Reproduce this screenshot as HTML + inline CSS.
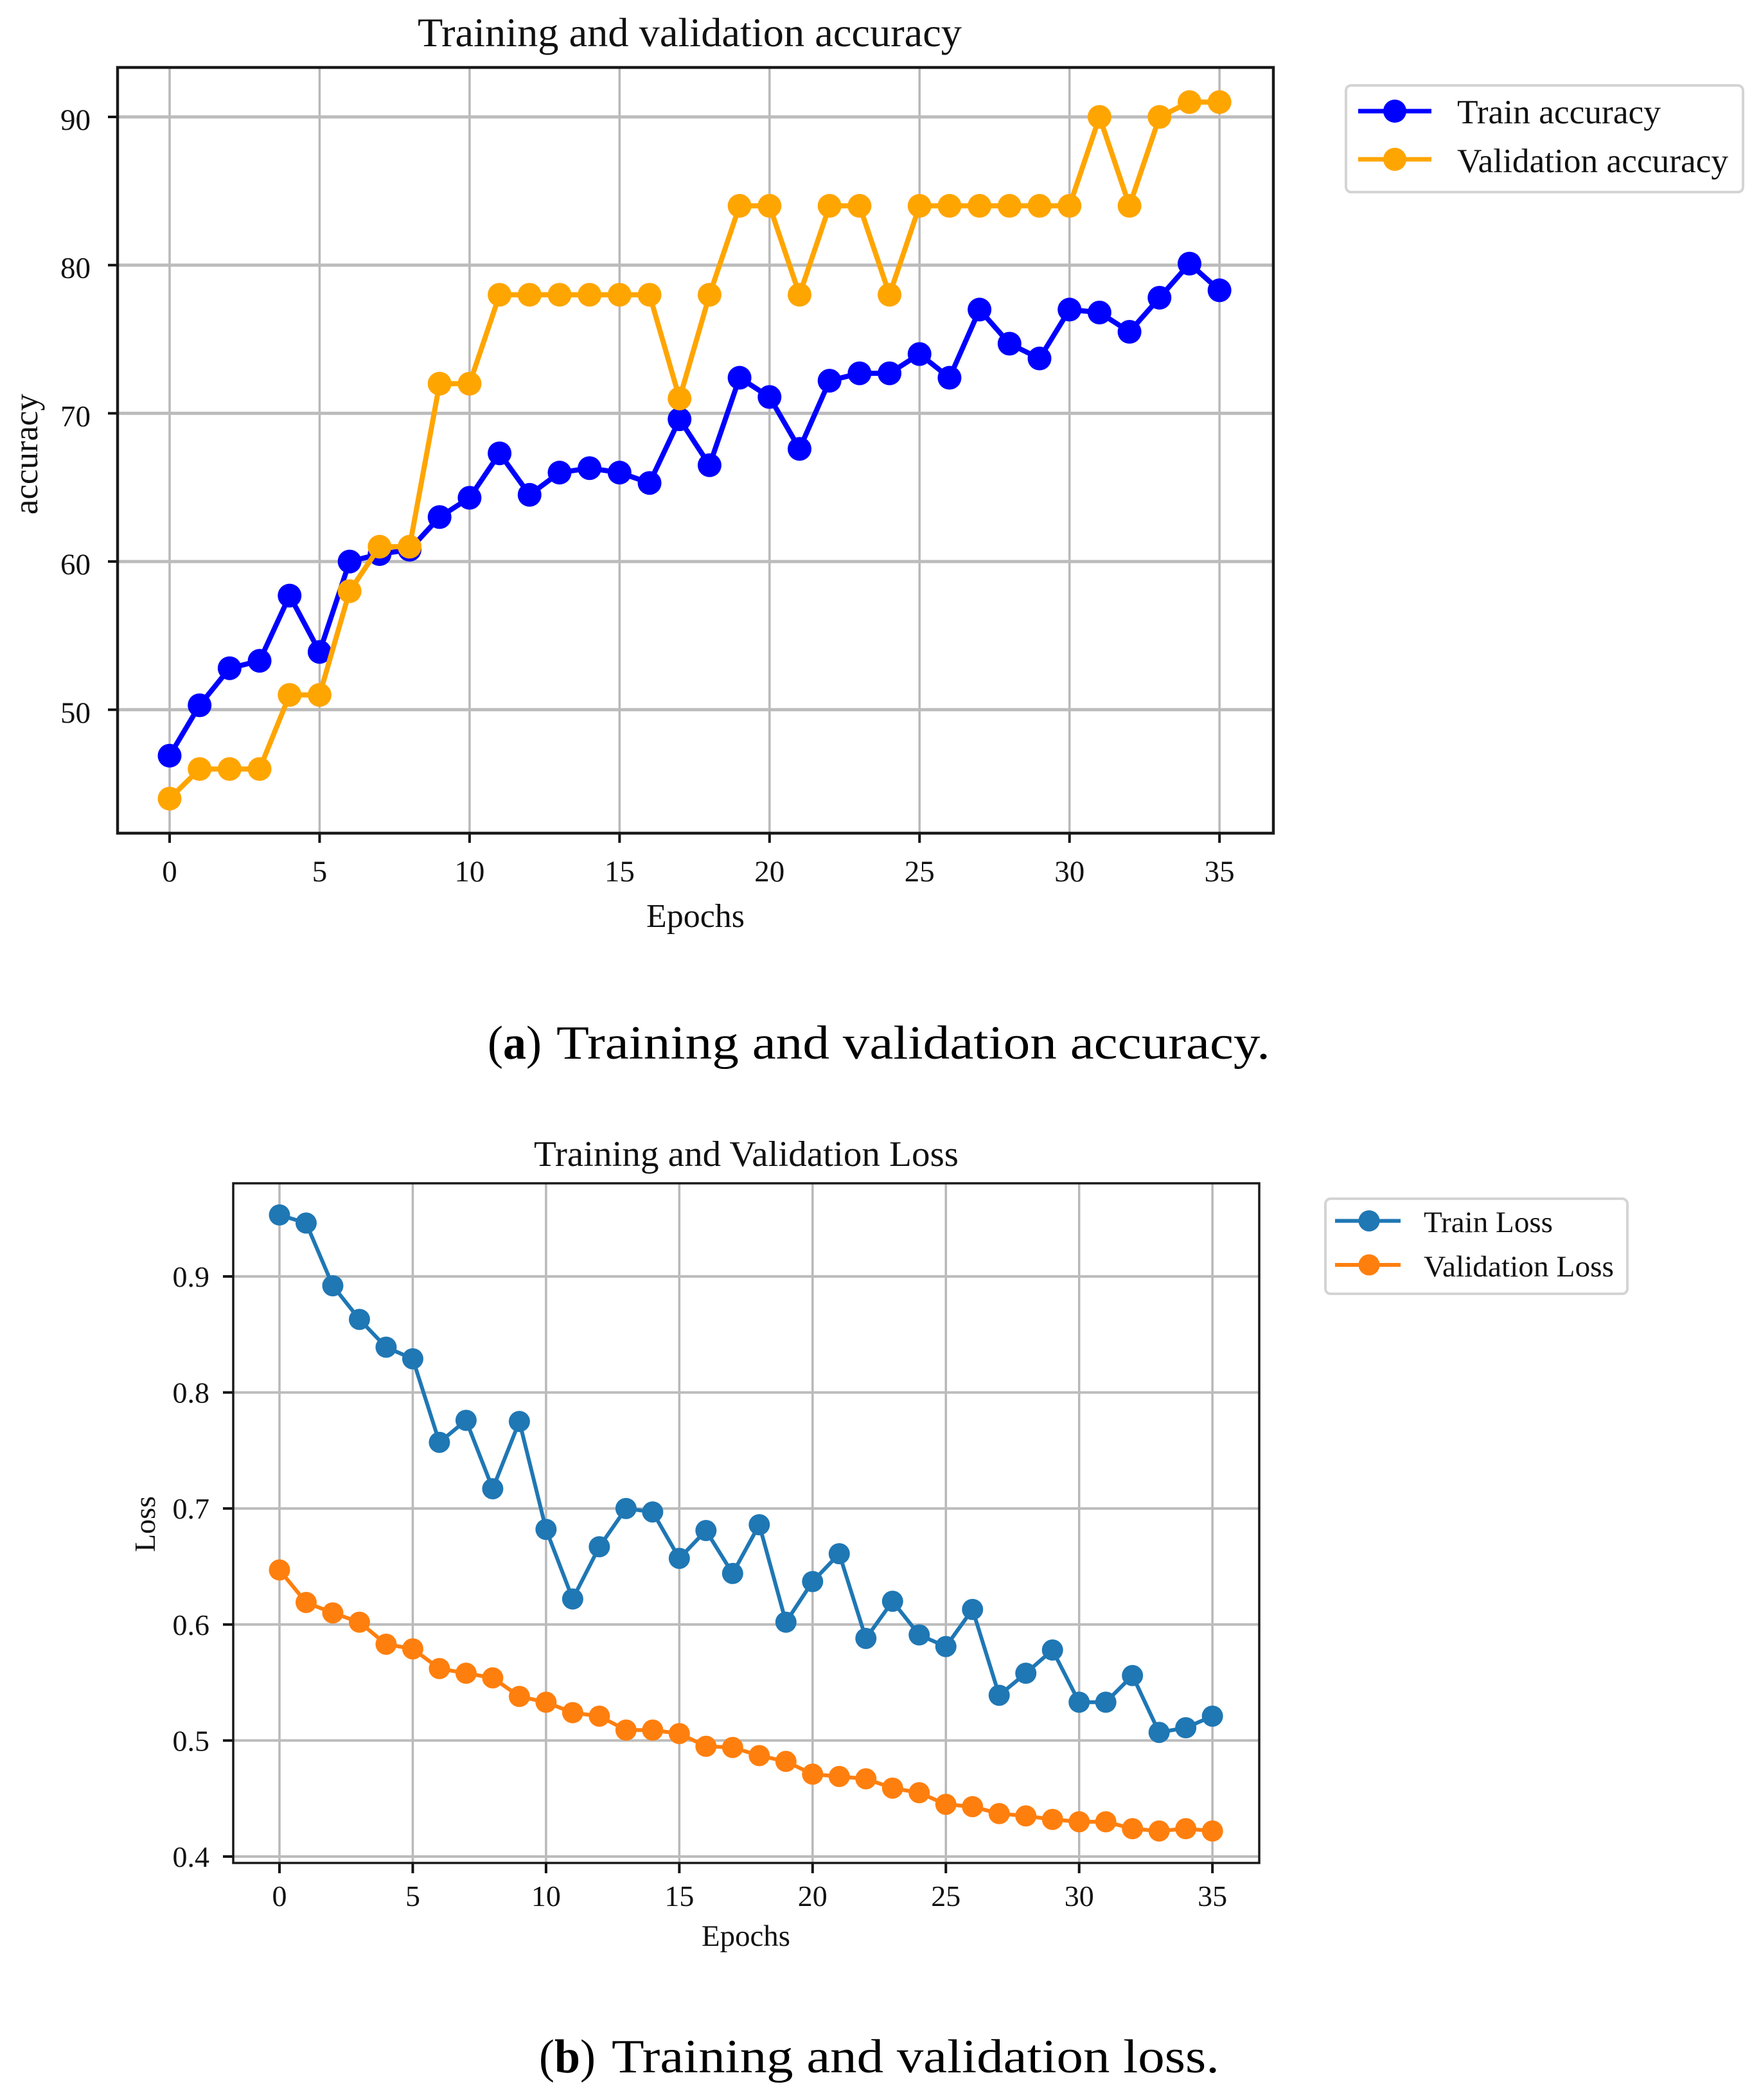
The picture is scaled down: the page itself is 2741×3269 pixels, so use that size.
<!DOCTYPE html>
<html lang="en">
<head>
<meta charset="utf-8">
<title>Training and validation accuracy and loss</title>
<style>
html,body{margin:0;padding:0;background:#fff;}
svg{display:block;}
text{font-family:"Liberation Serif","Times New Roman",serif;fill:#111;}
</style>
</head>
<body>
<svg id="figure" xmlns="http://www.w3.org/2000/svg" width="2741" height="3269" viewBox="0 0 2741 3269">
  <rect x="0" y="0" width="2741" height="3269" fill="#fff"/>

  <g id="chartA">
    <text x="650" y="72" font-size="64" textLength="847" lengthAdjust="spacingAndGlyphs">Training and validation accuracy</text>
    <text x="1006" y="1443" font-size="52" textLength="153" lengthAdjust="spacingAndGlyphs">Epochs</text>
    <text transform="translate(58 801) rotate(-90)" font-size="53" textLength="188" lengthAdjust="spacingAndGlyphs">accuracy</text>
  </g>

  <g>
    <rect x="2095" y="133" width="618" height="166" rx="8" fill="#fff" stroke="#d4d4d4" stroke-width="4"/>
    <line x1="2114" y1="173" x2="2228" y2="173" stroke="#0000ff" stroke-width="7"/>
    <circle cx="2171" cy="173" r="18" fill="#0000ff"/>
    <text x="2268" y="192" font-size="53" textLength="317" lengthAdjust="spacingAndGlyphs">Train accuracy</text>
    <line x1="2114" y1="248" x2="2228" y2="248" stroke="#ffa500" stroke-width="7"/>
    <circle cx="2171" cy="248" r="18" fill="#ffa500"/>
    <text x="2268" y="268" font-size="53" textLength="422" lengthAdjust="spacingAndGlyphs">Validation accuracy</text>
  </g>

  <text x="759" y="1648" font-size="74" textLength="84" lengthAdjust="spacingAndGlyphs" style="fill:#000">(<tspan font-weight="bold">a</tspan>)</text>
  <text x="866" y="1648" font-size="74" textLength="1111" lengthAdjust="spacingAndGlyphs" style="fill:#000">Training and validation accuracy.</text>

  <g id="chartB">
    <text x="831" y="1815" font-size="56" textLength="661" lengthAdjust="spacingAndGlyphs">Training and Validation Loss</text>
    <text x="1092" y="3029" font-size="47" textLength="138" lengthAdjust="spacingAndGlyphs">Epochs</text>
    <text transform="translate(241 2416) rotate(-90)" font-size="46" textLength="87" lengthAdjust="spacingAndGlyphs">Loss</text>
  </g>

  <g>
    <rect x="2063" y="1866" width="470" height="148" rx="8" fill="#fff" stroke="#d4d4d4" stroke-width="4"/>
    <line x1="2078" y1="1900.5" x2="2180" y2="1900.5" stroke="#1f77b4" stroke-width="6"/>
    <circle cx="2131" cy="1900.5" r="16.5" fill="#1f77b4"/>
    <text x="2216" y="1918" font-size="47" textLength="201" lengthAdjust="spacingAndGlyphs">Train Loss</text>
    <line x1="2078" y1="1969" x2="2180" y2="1969" stroke="#ff7f0e" stroke-width="6"/>
    <circle cx="2131" cy="1969" r="16.5" fill="#ff7f0e"/>
    <text x="2216" y="1987" font-size="47" textLength="296" lengthAdjust="spacingAndGlyphs">Validation Loss</text>
  </g>

  <text x="839" y="3226" font-size="74" textLength="88" lengthAdjust="spacingAndGlyphs" style="fill:#000">(<tspan font-weight="bold">b</tspan>)</text>
  <text x="952" y="3226" font-size="74" textLength="946" lengthAdjust="spacingAndGlyphs" style="fill:#000">Training and validation loss.</text>
</svg>

<script>
const epochs = [0,1,2,3,4,5,6,7,8,9,10,11,12,13,14,15,16,17,18,19,20,21,22,23,24,25,26,27,28,29,30,31,32,33,34,35];
const xTickLabels = [0,5,10,15,20,25,30,35];

const trainAccuracy = [46.9,50.3,52.8,53.3,57.7,53.9,60,60.5,60.8,63,64.3,67.3,64.5,66,66.3,66,65.3,69.6,66.5,72.4,71.1,67.6,72.2,72.7,72.7,74,72.4,77,74.7,73.7,77,76.8,75.5,77.8,80.1,78.3];
const validationAccuracy = [44,46,46,46,51,51,58,61,61,72,72,78,78,78,78,78,78,71,78,84,84,78,84,84,78,84,84,84,84,84,84,90,84,90,91,91];
const accuracyTickLabels = [50,60,70,80,90];

const trainLoss = [0.953,0.946,0.892,0.863,0.839,0.829,0.757,0.776,0.717,0.775,0.682,0.622,0.667,0.700,0.697,0.657,0.681,0.644,0.686,0.602,0.637,0.661,0.588,0.620,0.591,0.581,0.613,0.539,0.558,0.578,0.533,0.533,0.556,0.507,0.511,0.521];
const validationLoss = [0.647,0.619,0.610,0.602,0.583,0.579,0.562,0.558,0.554,0.538,0.533,0.524,0.521,0.509,0.509,0.506,0.495,0.494,0.487,0.482,0.471,0.469,0.467,0.459,0.455,0.445,0.443,0.437,0.435,0.432,0.430,0.430,0.424,0.422,0.424,0.422];
const lossTickLabels = ['0.4','0.5','0.6','0.7','0.8','0.9'];

const NS = 'http://www.w3.org/2000/svg';
function make(tag, attrs, parent) {
  const node = document.createElementNS(NS, tag);
  for (const k in attrs) node.setAttribute(k, attrs[k]);
  parent.appendChild(node);
  return node;
}

function drawChart(cfg) {
  const root = document.getElementById(cfg.rootId);
  const xOf = v => cfg.x0 + v * cfg.xStep;
  const yOf = v => cfg.yRef + (cfg.yRefValue - v) * cfg.yStep;

  xTickLabels.forEach(t => {
    const g = make('line', {x1:xOf(t), x2:xOf(t), y1:cfg.top, y2:cfg.bottom, stroke:'#b8b8b8', 'stroke-width':cfg.gridV}, root);
    
    
    const m = make('line', {x1:xOf(t), x2:xOf(t), y1:cfg.bottom, y2:cfg.bottom + cfg.tick, stroke:'#111', 'stroke-width':4}, root);
    
    
    const l = make('text', {x:xOf(t), y:cfg.xLabelY, 'font-size':cfg.tickFont, 'text-anchor':'middle'}, root);
    
    
    l.textContent = String(t);
  });

  cfg.yTicks.forEach(t => {
    const v = Number(t);
    const g = make('line', {x1:cfg.left, x2:cfg.right, y1:yOf(v), y2:yOf(v), stroke:'#bcbcbc', 'stroke-width':cfg.gridH}, root);
    
    
    const m = make('line', {x1:cfg.left - cfg.tick, x2:cfg.left, y1:yOf(v), y2:yOf(v), stroke:'#111', 'stroke-width':4}, root);
    
    
    const l = make('text', {x:cfg.yLabelX, y:yOf(v) + cfg.yLabelDy, 'font-size':cfg.tickFont, 'text-anchor':'end'}, root);
    
    
    l.textContent = String(t);
  });

  cfg.series.forEach(s => {
    const pts = epochs.map((e, i) => xOf(e) + ',' + yOf(s.values[i])).join(' ');
    const line = make('polyline', {points:pts, fill:'none', stroke:s.color, 'stroke-width':cfg.lineWidth, 'stroke-linejoin':'round'}, root);
    
    
    epochs.forEach((e, i) => {
      const c = make('circle', {cx:xOf(e), cy:yOf(s.values[i]), r:cfg.radius, fill:s.color}, root);
      
      
    });
  });

  const frame = make('rect', {x:cfg.left, y:cfg.top, width:cfg.right - cfg.left, height:cfg.bottom - cfg.top, fill:'none', stroke:'#1a1a1a', 'stroke-width':cfg.frame}, root);
  
  
}

drawChart({
  rootId:'chartA', left:183, right:1982, top:105, bottom:1297,
  x0:264, xStep:46.69, yRef:182, yRefValue:90, yStep:23.07,
  tick:15, tickFont:47, xLabelY:1372, yLabelX:141, yLabelDy:20,
  gridV:3.5, gridH:5, lineWidth:8, radius:18.5, frame:4.5,
  yTicks:accuracyTickLabels,
  series:[
    {name:'train-accuracy', values:trainAccuracy, color:'#0000ff'},
    {name:'validation-accuracy', values:validationAccuracy, color:'#ffa500'}
  ]
});

drawChart({
  rootId:'chartB', left:363, right:1960, top:1842, bottom:2900,
  x0:435, xStep:41.49, yRef:1987, yRefValue:0.9, yStep:1806,
  tick:16, tickFont:46, xLabelY:2967, yLabelX:326, yLabelDy:16,
  gridV:3.5, gridH:4, lineWidth:6, radius:16.5, frame:3.5,
  yTicks:lossTickLabels,
  series:[
    {name:'train-loss', values:trainLoss, color:'#1f77b4'},
    {name:'validation-loss', values:validationLoss, color:'#ff7f0e'}
  ]
});
</script>
</body>
</html>
